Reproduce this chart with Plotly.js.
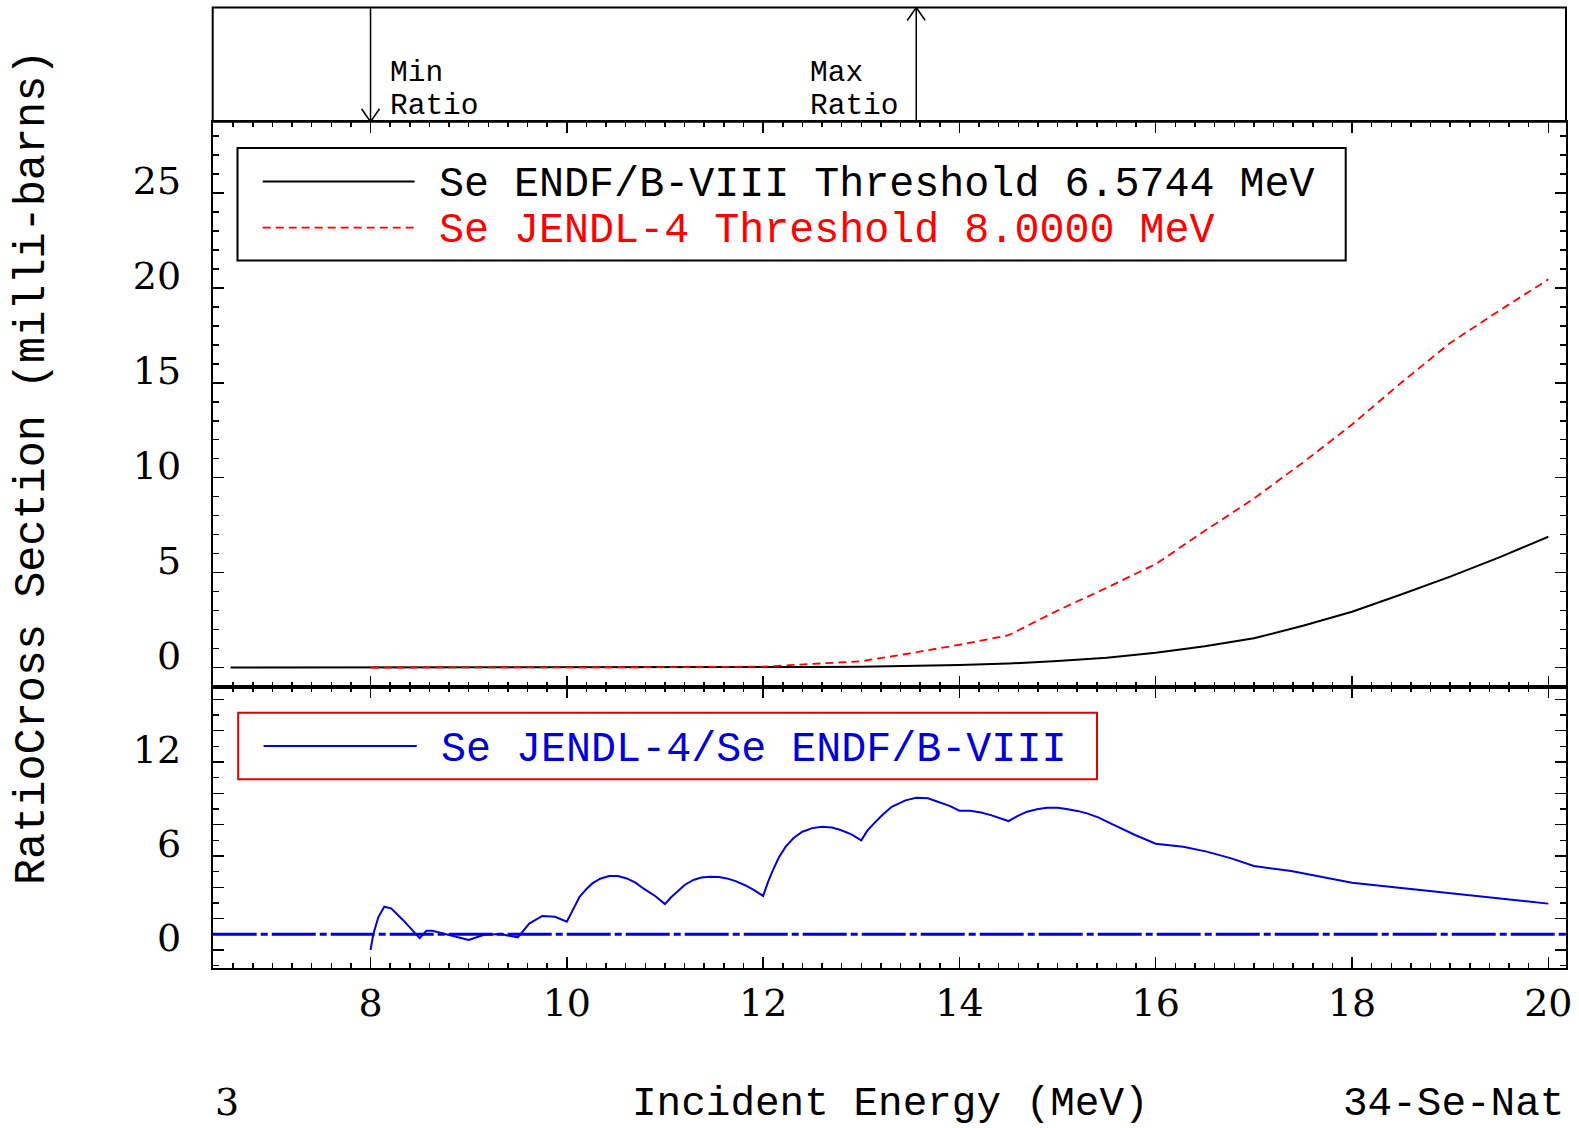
<!DOCTYPE html>
<html>
<head>
<meta charset="utf-8">
<script src="https://cdn.plot.ly/plotly-3.0.1.min.js"></script>
<style>
  html, body { margin: 0; padding: 0; background: #ffffff; }
  #chart { width: 1579px; height: 1128px; }
</style>
</head>
<body>
<div id="chart"></div>
<script>
// ---------------- DATA ----------------
// ENDF/B-VIII cross section (milli-barns), threshold 6.5744 MeV
const endfEnergy = [6.5744, 7, 8, 9, 10, 11, 12, 12.5, 13, 13.5, 14, 14.5, 15, 15.5, 16, 16.5, 17, 17.5, 18, 18.5, 19, 19.5, 20];
const endfXS     = [0, 0, 0.0005, 0.001, 0.003, 0.006, 0.012, 0.025, 0.047, 0.082, 0.135, 0.21, 0.34, 0.52, 0.78, 1.12, 1.54, 2.2, 2.94, 3.85, 4.79, 5.8, 6.89];

// JENDL-4 cross section (milli-barns), threshold 8.0000 MeV
const jendlEnergy = [8, 9, 10, 11, 12, 12.5, 13, 13.5, 14, 14.5, 15, 15.5, 16, 16.5, 17, 17.5, 18, 18.5, 19, 19.5, 20];
const jendlXS     = [0, 0.001, 0.005, 0.017, 0.045, 0.17, 0.33, 0.75, 1.2, 1.7, 3.0, 4.2, 5.45, 7.2, 8.9, 10.8, 12.8, 15.0, 17.1, 18.8, 20.45];

// Ratio JENDL-4 / ENDF/B-VIII
const ratioEnergy = [8.0, 8.03, 8.08, 8.14, 8.21, 8.33, 8.5, 8.57, 8.63, 8.76, 9.0, 9.15, 9.32, 9.5, 9.62, 9.75, 9.88, 10.0,
  10.07, 10.13, 10.2, 10.26, 10.34, 10.43, 10.52, 10.61, 10.7, 10.78, 10.9, 11.0, 11.06, 11.12, 11.2, 11.29, 11.37, 11.46, 11.55, 11.63, 11.72, 11.81, 11.9, 12.0,
  12.05, 12.1, 12.16, 12.23, 12.31, 12.4, 12.5, 12.6, 12.7, 12.79, 12.9, 13.0,
  13.06, 13.13, 13.22, 13.31, 13.45, 13.56, 13.68, 13.78, 13.9, 14.0, 14.11, 14.22, 14.32, 14.5, 14.6, 14.69, 14.79, 14.89, 15.0, 15.09, 15.2, 15.3, 15.42, 15.54, 15.66, 15.79, 16.0,
  16.28, 16.52, 16.77, 17.0, 17.38, 18.0, 18.4, 19.0, 19.62, 20.0];
const ratioValue  = [0.0, 1.06, 2.1, 2.76, 2.66, 1.92, 0.76, 1.23, 1.23, 1.02, 0.64, 0.96, 1.02, 0.81, 1.7, 2.17, 2.12, 1.81,
  2.7, 3.4, 3.9, 4.25, 4.55, 4.72, 4.72, 4.57, 4.3, 3.93, 3.45, 2.93, 3.35, 3.72, 4.15, 4.47, 4.63, 4.68, 4.66, 4.57, 4.4, 4.15, 3.85, 3.45,
  4.35, 5.1, 5.9, 6.6, 7.15, 7.55, 7.78, 7.87, 7.82, 7.66, 7.38, 7.0,
  7.6, 8.08, 8.65, 9.14, 9.55, 9.72, 9.68, 9.46, 9.2, 8.89, 8.89, 8.78, 8.61, 8.23, 8.58, 8.83, 8.98, 9.08, 9.08, 9.0, 8.88, 8.72, 8.45, 8.08, 7.72, 7.34, 6.78,
  6.59, 6.28, 5.85, 5.36, 5.04, 4.3, 4.04, 3.61, 3.23, 2.96];

const unityRatio = 1;
const minRatioEnergy = 8.0;
const maxRatioEnergy = 13.56;

const xTickVals = [8, 10, 12, 14, 16, 18, 20];
const ratioTickVals = [0, 2, 4, 6, 8, 10, 12, 14, 16];
const ratioTickText = ['0', '', '', '6', '', '', '12', '', ''];
const xsTickVals = [0, 5, 10, 15, 20, 25];

const legendLabels = {
  endf: 'Se ENDF/B-VIII Threshold 6.5744 MeV',
  jendl: 'Se JENDL-4 Threshold 8.0000 MeV',
  ratio: 'Se JENDL-4/Se ENDF/B-VIII'
};

// ---------------- LAYOUT HELPERS ----------------
const W = 1579, H = 1128;
const px = v => v / W;
const py = v => 1 - v / H;

const PLOT_L = 212.7, PLOT_R = 1566;
const TOP_T = 7.5, SEP1 = 121.8, SEP2 = 686.5, BOT_B = 968;

const MONO = 'Liberation Mono, DejaVu Sans Mono, monospace';
const SERIF = 'DejaVu Serif, Liberation Serif, serif';
const BLUE = '#0000dd';
const RED = '#ff0000';

const xCommon = {
  range: [6.392, 20.18],
  domain: [px(PLOT_L), px(PLOT_R)],
  tickmode: 'array', tickvals: xTickVals,
  ticks: 'inside', ticklen: 11, tickwidth: 1.5, tickcolor: '#000',
  minor: { dtick: 0.2, tick0: 0, ticks: 'inside', ticklen: 5, tickwidth: 1.5, tickcolor: '#000' },
  showline: true, linecolor: '#000', linewidth: 2, mirror: 'ticks',
  showgrid: false, zeroline: false,
  tickfont: { family: SERIF, size: 38, color: '#000' }
};

const traces = [
  { x: endfEnergy, y: endfXS, xaxis: 'x2', yaxis: 'y2', type: 'scatter', mode: 'lines',
    line: { color: '#000', width: 2 }, name: legendLabels.endf },
  { x: jendlEnergy, y: jendlXS, xaxis: 'x2', yaxis: 'y2', type: 'scatter', mode: 'lines',
    line: { color: RED, width: 1.8, dash: '8px,5px' }, name: legendLabels.jendl },
  { x: ratioEnergy, y: ratioValue, xaxis: 'x', yaxis: 'y', type: 'scatter', mode: 'lines',
    line: { color: BLUE, width: 2 }, name: legendLabels.ratio }
];

const layout = {
  width: W, height: H,
  margin: { l: 0, r: 0, t: 0, b: 0 },
  paper_bgcolor: '#fff', plot_bgcolor: '#fff',
  showlegend: false,
  font: { family: MONO, color: '#000' },
  xaxis: Object.assign({}, xCommon, { anchor: 'y', ticklabelstandoff: 0 }),
  xaxis2: Object.assign({}, xCommon, { anchor: 'y2', matches: 'x', showticklabels: false }),
  xaxis3: { anchor: 'y3', matches: 'x', domain: [px(PLOT_L), px(PLOT_R)], visible: false },
  yaxis: {
    anchor: 'x', domain: [py(BOT_B), py(SEP2)], range: [-1.149, 16.82],
    tickmode: 'array', tickvals: ratioTickVals, ticktext: ratioTickText,
    ticks: 'inside', ticklen: 11, tickwidth: 1.5, tickcolor: '#000',
    minor: { dtick: 1, tick0: 0, ticks: 'inside', ticklen: 6, tickwidth: 1.5, tickcolor: '#000' },
    showline: true, linecolor: '#000', linewidth: 2, mirror: 'ticks',
    showgrid: false, zeroline: false,
    tickfont: { family: SERIF, size: 38, color: '#000' },
    ticklabelshift: -12, ticklabelstandoff: 22
  },
  yaxis2: {
    anchor: 'x2', domain: [py(SEP2), py(SEP1)], range: [-1.0, 28.75],
    tickmode: 'array', tickvals: xsTickVals,
    ticks: 'inside', ticklen: 11, tickwidth: 1.5, tickcolor: '#000',
    minor: { dtick: 1, tick0: 0, ticks: 'inside', ticklen: 6, tickwidth: 1.5, tickcolor: '#000' },
    showline: true, linecolor: '#000', linewidth: 2, mirror: 'ticks',
    showgrid: false, zeroline: false,
    tickfont: { family: SERIF, size: 38, color: '#000' },
    ticklabelshift: -12, ticklabelstandoff: 22
  },
  yaxis3: { anchor: 'x3', domain: [py(SEP1), py(TOP_T)], range: [0, SEP1 - TOP_T], visible: false },
  shapes: [],
  annotations: []
};

const S = layout.shapes, A = layout.annotations;

// top panel frame
S.push({ type: 'rect', xref: 'paper', yref: 'paper', x0: px(PLOT_L), x1: px(PLOT_R), y0: py(SEP1), y1: py(TOP_T),
  line: { color: '#000', width: 2 } });

// unity ratio dash-dot line
S.push({ type: 'line', xref: 'x domain', yref: 'y', x0: 0, x1: 1, y0: unityRatio, y1: unityRatio,
  line: { color: BLUE, width: 3, dash: '44px,4px,7px,4px' } });

// arrows (top panel)
const topH = SEP1 - TOP_T;
function arrowLine(xv, y0, y1) {
  S.push({ type: 'line', xref: 'x', yref: 'y3', x0: xv, x1: xv, y0: y0, y1: y1, line: { color: '#000', width: 1.5 } });
}
function arrowBarb(xv, dxp, yTip, yBase) {
  S.push({ type: 'line', xref: 'x', xsizemode: 'pixel', xanchor: xv, x0: dxp, x1: 0, yref: 'y3', y0: yBase, y1: yTip,
    line: { color: '#000', width: 1.5 } });
}
arrowLine(minRatioEnergy, 0, topH);
arrowBarb(minRatioEnergy, -9, 0, 13);
arrowBarb(minRatioEnergy, 9, 0, 13);
arrowLine(maxRatioEnergy, 0, topH);
arrowBarb(maxRatioEnergy, -9, topH, topH - 13);
arrowBarb(maxRatioEnergy, 9, topH, topH - 13);

const smallFont = { family: MONO, size: 29.5, color: '#000' };
A.push({ xref: 'x', yref: 'y3', x: minRatioEnergy, xshift: 17, y: SEP1 - 73, text: 'Min', showarrow: false,
  xanchor: 'left', yanchor: 'middle', font: smallFont });
A.push({ xref: 'x', yref: 'y3', x: minRatioEnergy, xshift: 17, y: SEP1 - 106, text: 'Ratio', showarrow: false,
  xanchor: 'left', yanchor: 'middle', font: smallFont });
A.push({ xref: 'x', yref: 'y3', x: maxRatioEnergy, xshift: -108, y: SEP1 - 73, text: 'Max', showarrow: false,
  xanchor: 'left', yanchor: 'middle', font: smallFont });
A.push({ xref: 'x', yref: 'y3', x: maxRatioEnergy, xshift: -108, y: SEP1 - 106, text: 'Ratio', showarrow: false,
  xanchor: 'left', yanchor: 'middle', font: smallFont });

// legend (middle)
S.push({ type: 'rect', xref: 'paper', yref: 'paper', x0: px(237.5), x1: px(1345.7), y0: py(260.5), y1: py(148),
  line: { color: '#000', width: 2 }, fillcolor: 'rgba(0,0,0,0)' });
S.push({ type: 'line', xref: 'paper', yref: 'paper', x0: px(262.7), x1: px(414.6), y0: py(181.5), y1: py(181.5),
  line: { color: '#000', width: 2 } });
S.push({ type: 'line', xref: 'paper', yref: 'paper', x0: px(262.7), x1: px(414.6), y0: py(227.7), y1: py(227.7),
  line: { color: RED, width: 1.8, dash: '8px,5px' } });
A.push({ xref: 'paper', yref: 'paper', x: px(437), y: py(185), text: legendLabels.endf, showarrow: false,
  xanchor: 'left', yanchor: 'middle', font: { family: MONO, size: 41.7, color: '#000' } });
A.push({ xref: 'paper', yref: 'paper', x: px(437), y: py(231.5), text: legendLabels.jendl, showarrow: false,
  xanchor: 'left', yanchor: 'middle', font: { family: MONO, size: 41.7, color: RED } });

// legend (bottom)
S.push({ type: 'rect', xref: 'paper', yref: 'paper', x0: px(238.2), x1: px(1097), y0: py(779.3), y1: py(712.7),
  line: { color: '#e00000', width: 2 }, fillcolor: 'rgba(0,0,0,0)' });
S.push({ type: 'line', xref: 'paper', yref: 'paper', x0: px(263.6), x1: px(416.8), y0: py(746), y1: py(746),
  line: { color: BLUE, width: 2 } });
A.push({ xref: 'paper', yref: 'paper', x: px(438.5), y: py(750), text: legendLabels.ratio, showarrow: false,
  xanchor: 'left', yanchor: 'middle', font: { family: MONO, size: 41.7, color: BLUE } });

// axis titles and corner labels
A.push({ xref: 'paper', yref: 'paper', x: px(890.5), y: py(1104), text: 'Incident Energy (MeV)', showarrow: false,
  xanchor: 'center', yanchor: 'middle', font: { family: MONO, size: 41, color: '#000' } });
A.push({ xref: 'paper', yref: 'paper', x: px(213), y: py(1102), text: '3', showarrow: false,
  xanchor: 'left', yanchor: 'middle', font: { family: SERIF, size: 38, color: '#000' } });
A.push({ xref: 'paper', yref: 'paper', x: px(1566), y: py(1104), text: '34-Se-Nat', showarrow: false,
  xanchor: 'right', yanchor: 'middle', font: { family: MONO, size: 41, color: '#000' } });
A.push({ xref: 'paper', yref: 'paper', x: px(32), y: py(468), text: 'RatioCross Section (milli-barns)', showarrow: false,
  xanchor: 'center', yanchor: 'middle', textangle: -90, font: { family: MONO, size: 43.5, color: '#000' } });

Plotly.newPlot('chart', traces, layout, { displayModeBar: false, staticPlot: true });
</script>
</body>
</html>
